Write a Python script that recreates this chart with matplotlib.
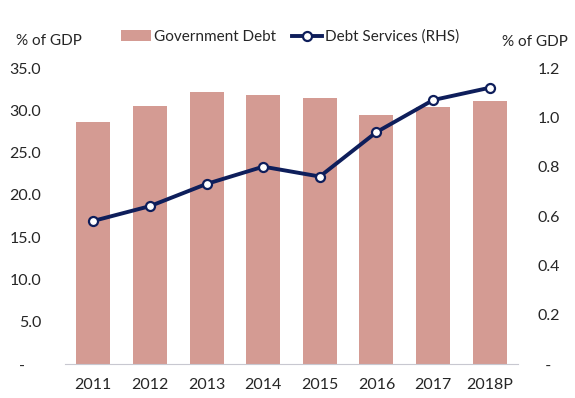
import matplotlib.pyplot as plt
import numpy as np

plt.rcParams['font.family'] = ['Lato', 'DejaVu Sans']

years = ["2011", "2012", "2013", "2014", "2015", "2016", "2017", "2018P"]
gov_debt = [28.6, 30.5, 32.2, 31.8, 31.5, 29.4, 30.4, 31.1]
debt_services = [0.58, 0.64, 0.73, 0.80, 0.76, 0.94, 1.07, 1.12]

left_ticks = [0, 5, 10, 15, 20, 25, 30, 35]
left_labels = ["-    ", "5.0", "10.0", "15.0", "20.0", "25.0", "30.0", "35.0"]
right_ticks = [0, 0.2, 0.4, 0.6, 0.8, 1.0, 1.2]
right_labels = ["  -", "0.2", "0.4", "0.6", "0.8", "1.0", "1.2"]

bar_color = "#d49b93"
line_color = "#0e1e5b"
text_color = "#262626"

fig = plt.figure(figsize=(5.75, 3.98), dpi=100)
ax = fig.add_axes([65/575, 1-364/398, 453/575, 296/398])
x = np.arange(len(years))

bars = ax.bar(x, gov_debt, width=0.6, color=bar_color, label="Government Debt", zorder=2)
ax.set_xlim(-0.5, 7.5)
ax.set_ylim(0, 35)
ax.set_yticks(left_ticks)
ax.set_yticklabels(left_labels)
ax.set_xticks(x)
ax.set_xticklabels(years)
for s in ["top", "right", "left"]:
    ax.spines[s].set_visible(False)
ax.spines["bottom"].set_color("#c8c8d0")
ax.tick_params(axis="both", length=0, labelsize=11.5, colors=text_color)
ax.tick_params(axis="y", pad=17)
ax.tick_params(axis="x", pad=10)

ax2 = ax.twinx()
line, = ax2.plot(x, debt_services, color=line_color, lw=2.8, marker="o", ms=6.5,
                 mfc="white", mec=line_color, mew=1.6, label="Debt Services (RHS)", zorder=3)
ax2.set_ylim(0, 1.2)
ax2.set_yticks(right_ticks)
ax2.set_yticklabels(right_labels)
for s in ax2.spines.values():
    s.set_visible(False)
ax2.tick_params(axis="y", length=0, labelsize=11.5, colors=text_color, pad=14)

fig.text(16/575, 1-41/398, "% of GDP", fontsize=11, color=text_color, va="center", ha="left")
fig.text(568/575, 1-42/398, "% of GDP", fontsize=11, color=text_color, va="center", ha="right")

fig.legend([bars, line], ["Government Debt", "Debt Services (RHS)"], loc="center",
           bbox_to_anchor=(290/575, 1-37/398), ncol=2, frameon=False, fontsize=11,
           handlelength=2.0, handletextpad=0.2, columnspacing=1.0,
           labelcolor=text_color)

fig.savefig("out.png", dpi=100)
